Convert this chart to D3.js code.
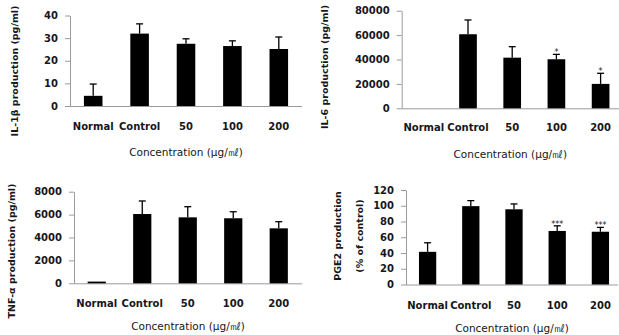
<!DOCTYPE html>
<html>
<head>
<meta charset="utf-8">
<script src="https://cdn.jsdelivr.net/npm/d3@7"></script>
<style>
  body { margin: 0; background: #fff; }
  svg text { font-family: "DejaVu Sans", Verdana, sans-serif; fill: #161620; }
</style>
</head>
<body>
<div id="chart"></div>
<script>
// Data
var categories = ['Normal', 'Control', '50', '100', '200'];

var il1b_mean = [4.5, 32, 27.5, 26.5, 25.2];
var il1b_err  = [5.2, 4.3, 2.2, 2.3, 5.3];
var il1b_ticks = [0, 10, 20, 30, 40];

var il6_mean = [0, 60700, 41500, 40200, 20000];
var il6_err  = [0, 11700, 9000, 4000, 8700];
var il6_sig  = ['', '', '', '*', '*'];
var il6_ticks = [0, 20000, 40000, 60000, 80000];

var tnf_mean = [150, 6050, 5760, 5680, 4800];
var tnf_err  = [0, 1140, 930, 570, 580];
var tnf_ticks = [0, 2000, 4000, 6000, 8000];

var pge2_mean = [41.5, 99.5, 95.5, 68, 67];
var pge2_err  = [11.5, 7, 6.8, 6.5, 5.5];
var pge2_sig  = ['', '', '', '***', '***'];
var pge2_ticks = [0, 20, 40, 60, 80, 100, 120];

var x_title = 'Concentration  (\u03bcg/\u3396)';

var width = 619, height = 335;

var svg = d3.select('#chart')
    .append('svg')
    .attr('width', width)
    .attr('height', height);

function draw_panel(p) {
    var x = d3.scaleBand()
        .domain(categories)
        .range([p.left, p.right])
        .paddingInner(0.6)
        .paddingOuter(0.3);

    var y = d3.scaleLinear()
        .domain([0, p.ticks[p.ticks.length - 1]])
        .range([p.bottom, p.top]);

    var g = svg.append('g');

    // y axis
    var y_axis = g.append('g')
        .attr('transform', 'translate(' + p.left + ',0)')
        .call(d3.axisLeft(y).tickValues(p.ticks).tickFormat(d3.format('d'))
            .tickSize(5).tickPadding(7).tickSizeOuter(0));
    y_axis.select('.domain').attr('stroke', '#9a9a9a');
    y_axis.selectAll('.tick line').attr('stroke', '#9a9a9a');
    y_axis.selectAll('.tick text')
        .style('font-size', '10px')
        .style('font-weight', 'bold');

    // x axis
    var x_axis = g.append('g')
        .attr('transform', 'translate(0,' + p.bottom + ')')
        .call(d3.axisBottom(x).tickSize(0).tickPadding(p.label_pad));
    x_axis.select('.domain').attr('stroke', '#9a9a9a')
        .attr('d', 'M' + p.left + ',0.5H' + p.axis_end);
    x_axis.selectAll('.tick text')
        .style('font-size', '10px')
        .style('font-weight', 'bold');

    // bars
    g.selectAll('rect.bar')
        .data(p.mean)
        .enter()
        .append('rect')
        .attr('class', 'bar')
        .attr('x', function(d, i){ return x(categories[i]); })
        .attr('y', function(d){ return y(d); })
        .attr('width', x.bandwidth())
        .attr('height', function(d){ return y(0) - y(d); })
        .attr('fill', '#000');

    // error bars
    var cap = 3.5;
    p.mean.forEach(function(m, i){
        if (!p.err[i]) return;
        var cx = x(categories[i]) + x.bandwidth() / 2;
        var yt = y(m + p.err[i]);
        g.append('line')
            .attr('x1', cx).attr('x2', cx)
            .attr('y1', y(m)).attr('y2', yt)
            .attr('stroke', '#000').attr('stroke-width', 1.3);
        g.append('line')
            .attr('x1', cx - cap).attr('x2', cx + cap)
            .attr('y1', yt).attr('y2', yt)
            .attr('stroke', '#000').attr('stroke-width', 1.3);
        if (p.sig && p.sig[i]) {
            g.append('text')
                .attr('x', cx)
                .attr('y', yt + 1)
                .attr('text-anchor', 'middle')
                .style('font-size', '8px')
                .text(p.sig[i]);
        }
    });

    // y label
    var yl = g.append('text')
        .attr('transform', 'translate(' + p.ylab_x + ',' + p.ylab_y + ') rotate(-90)')
        .attr('text-anchor', 'middle')
        .style('font-size', '9.5px')
        .style('font-weight', 'bold');
    p.ylab.forEach(function(line, i){
        yl.append('tspan')
            .attr('x', 0)
            .attr('dy', i === 0 ? '0.35em' : p.ylab_gap)
            .text(line);
    });

    // x title
    g.append('text')
        .attr('x', (p.left + p.axis_end) / 2)
        .attr('y', p.title_y)
        .attr('text-anchor', 'middle')
        .style('font-size', '10.5px')
        .text(x_title);
}

draw_panel({
    mean: il1b_mean, err: il1b_err, ticks: il1b_ticks,
    left: 70, right: 302, axis_end: 302, top: 15.5, bottom: 106,
    label_pad: 17, title_y: 155.5,
    ylab: ['IL-1\u03b2 production (pg/ml)'], ylab_x: 15, ylab_y: 71
});

draw_panel({
    mean: il6_mean, err: il6_err, sig: il6_sig, ticks: il6_ticks,
    left: 401.7, right: 622.7, axis_end: 619, top: 10.7, bottom: 108.3,
    label_pad: 16, title_y: 157.5,
    ylab: ['IL-6 production (pg/ml)'], ylab_x: 325, ylab_y: 67
});

draw_panel({
    mean: tnf_mean, err: tnf_err, ticks: tnf_ticks,
    left: 74, right: 301.5, axis_end: 302, top: 191.7, bottom: 283.3,
    label_pad: 16.5, title_y: 330,
    ylab: ['TNF-\u03b1 production (pg/ml)'], ylab_x: 12, ylab_y: 251
});

draw_panel({
    mean: pge2_mean, err: pge2_err, sig: pge2_sig, ticks: pge2_ticks,
    left: 406, right: 622, axis_end: 618, top: 190, bottom: 284.5,
    label_pad: 17, title_y: 331.5,
    ylab: ['PGE2 production', '(% of control)'], ylab_x: 338, ylab_y: 236, ylab_gap: '22px'
});
</script>
</body>
</html>
